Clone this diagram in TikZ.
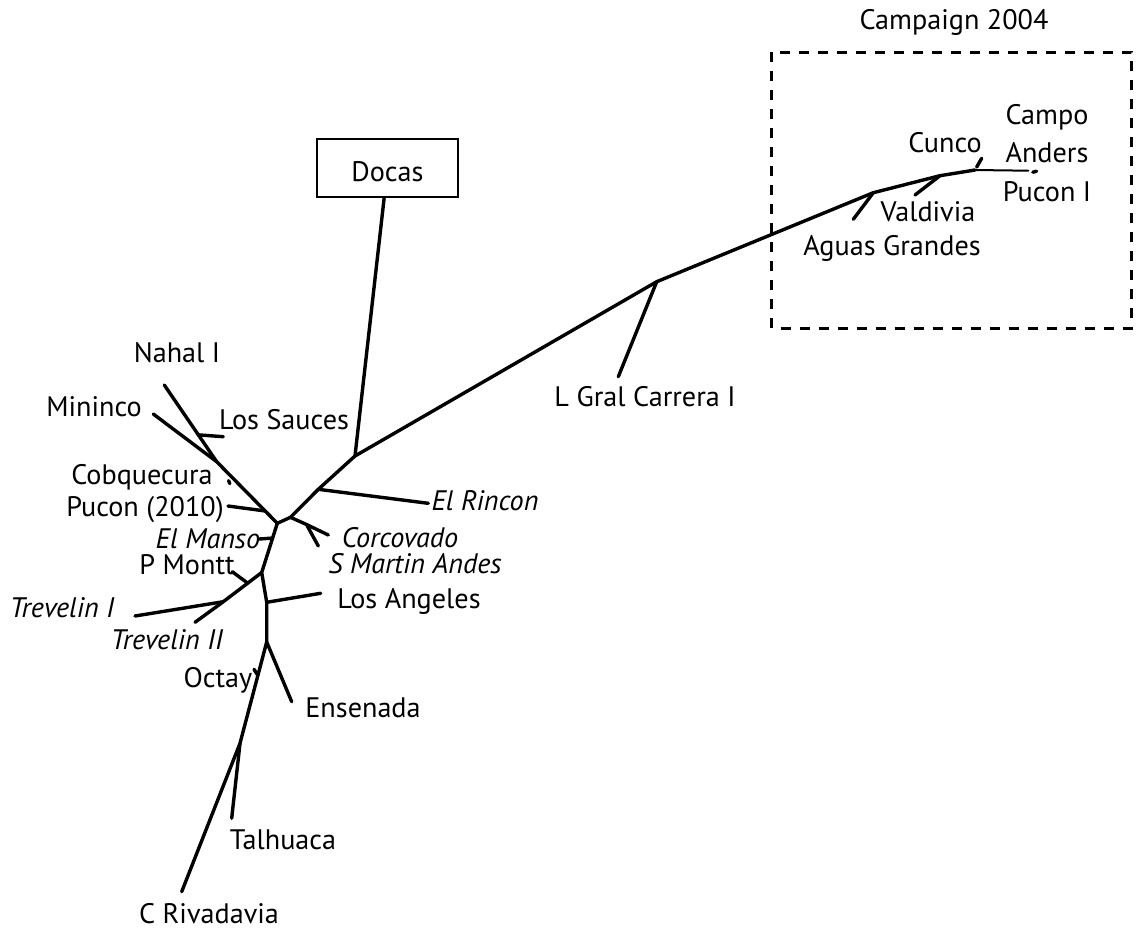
\documentclass[tikz,border=0pt]{standalone}
\usepackage{fontspec}
\setmainfont{PT Sans}
\usetikzlibrary{calc}

\tikzset{
  branch/.style={line width=1.7pt, line cap=round, line join=round},
  twig/.style={line width=1pt, line cap=round},
  taxon/.style={font=\fontsize{14.1}{16}\selectfont, inner sep=0pt},
  taxonit/.style={taxon, font=\fontsize{14.1}{16}\selectfont\itshape},
  framebox/.style={draw, line width=1.15pt, minimum width=70.2pt, minimum height=29pt, inner sep=0pt},
  campaignbox/.style={draw, line width=1.3pt, dash pattern=on 5pt off 4.5pt},
}

\begin{document}
\begin{tikzpicture}[x=0.5pt,y=-0.5pt]
    \useasboundingbox (0,0) rectangle (1136,933);

    % inner nodes of the tree
    \coordinate (nA) at (216.7,461.7);
    \coordinate (nB) at (277.3,523.3);
    \coordinate (nC) at (290.5,517.3);
    \coordinate (nD) at (318.3,489.3);
    \coordinate (nE) at (355,456);
    \coordinate (nF) at (656.7,281.7);
    \coordinate (nG) at (873.3,192.7);
    \coordinate (nH) at (940,175.7);
    \coordinate (nI) at (975,170);
    \coordinate (nJ) at (261.7,572.5);
    \coordinate (nK) at (266.7,642);
    \coordinate (nL) at (240,743.3);
    \coordinate (jLA) at (266.7,602.3);
    \coordinate (jSM) at (306.5,524.5);
    \coordinate (jTI) at (223.3,601.7);

    % leaf ends
    \coordinate (lNahal) at (164.3,385);
    \coordinate (lMininco) at (153.3,414);
    \coordinate (lSauces) at (223.3,436.7);
    \coordinate (lPucon10) at (228,506);
    \coordinate (lManso) at (259.3,539);
    \coordinate (lMontt) at (232.3,571.7);
    \coordinate (lTrevI) at (135,616);
    \coordinate (lTrevII) at (195,622.3);
    \coordinate (lAngeles) at (320.7,593.3);
    \coordinate (lEnsenada) at (291.7,701.7);
    \coordinate (lOctay) at (254,669.3);
    \coordinate (lTalhuaca) at (231.7,818.3);
    \coordinate (lRivadavia) at (181.7,891.7);
    \coordinate (lRincon) at (428.3,503.3);
    \coordinate (lCorcovado) at (328.3,535);
    \coordinate (lSMartin) at (318.3,546);
    \coordinate (lCarrera) at (618.3,376.7);
    \coordinate (lAguas) at (853.3,219.3);
    \coordinate (lValdivia) at (915,195);
    \coordinate (lCunco) at (981.7,158.3);
    \coordinate (lCampo) at (1028.3,170.7);

    \node[framebox] (docas) at (387.5,168.3) {};
    \node[taxon] (docastxt) at (387.5,171.7) {Docas};
    \draw[campaignbox] (771.7,52.3) rectangle (1131.7,328.3);

    \foreach \n/\p/\t in {
        campaign/{954,22}/Campaign 2004, campo/{1047,117}/Campo,
        anders/{1047,153}/Anders, puconI/{1047,192}/Pucon I,
        cunco/{945,143}/Cunco, valdivia/{928,212}/Valdivia,
        aguas/{892,248}/Aguas Grandes, carrera/{645,397}/L Gral Carrera I,
        nahal/{177,353}/Nahal I, mininco/{94,407}/Mininco,
        sauces/{284,420}/Los Sauces, cobq/{142,477}/Cobquecura,
        pucon10/{145,510}/Pucon (2010), montt/{187,565}/P Montt,
        octay/{218,680}/Octay, ensenada/{363,708}/Ensenada,
        talhuaca/{283,840}/Talhuaca, rivadavia/{209,914}/C Rivadavia,
        angeles/{409,601}/Los Angeles}
        \node[taxon] (\n) at (\p) {\t};
    \foreach \n/\p/\t in {
        manso/{208,539}/El Manso, trevI/{62,608}/Trevelin I,
        trevII/{167,640}/Trevelin II, rincon/{485,501}/El Rincon,
        corcovado/{400,538}/Corcovado, smartin/{415,564}/S Martin Andes}
        \node[taxonit] (\n) at (\p) {\t};

    % backbone
    \draw[branch] (lNahal) -- (nA) -- (nB) -- (nC) -- (nD) -- (nE) -- (nF) -- (nG) -- (nH) -- (nI);
    \draw[twig] (nI) -- (lCampo);
    \draw[branch] (nB) -- (nJ) -- (jLA) -- (nK) -- (nL) -- (lRivadavia);
    \draw[branch] (nE) -- (docas);

    % side branches
    \draw[branch] (lMininco) -- (nA);
    \draw[branch] ($(lNahal)!0.65!(nA)$) -- (lSauces);
    \draw[branch] ($(nA)!0.8!(nB)$) -- (lPucon10);
    \draw[branch] ($(nB)!0.3!(nJ)$) -- (lManso);
    \draw[branch] (nJ) -- (jTI) -- (lTrevII);
    \draw[branch] ($(nJ)!0.365!(jTI)$) -- (lMontt);
    \draw[branch] (lTrevI) -- (jTI);
    \draw[branch] (jLA) -- (lAngeles);
    \draw[branch] (nK) -- (lEnsenada);
    \draw[branch] ($(nK)!0.33!(nL)$) -- (lOctay);
    \draw[branch] (nL) -- (lTalhuaca);
    \draw[branch] (nD) -- (lRincon);
    \draw[branch] (nC) -- (jSM) -- (lSMartin);
    \draw[branch] (jSM) -- (lCorcovado);
    \draw[branch] (nF) -- (lCarrera);
    \draw[branch] (nG) -- (lAguas);
    \draw[branch] (nH) -- (lValdivia);
    \draw[branch] ($(nI)!0.25!(lCunco)$) -- (lCunco);

    % tiny leaves
    \draw[branch] (228.6,480.6) -- (229.8,483.6);
    \draw[branch] (1032.8,172.2) -- (1036.6,171.2);
\end{tikzpicture}
\end{document}
